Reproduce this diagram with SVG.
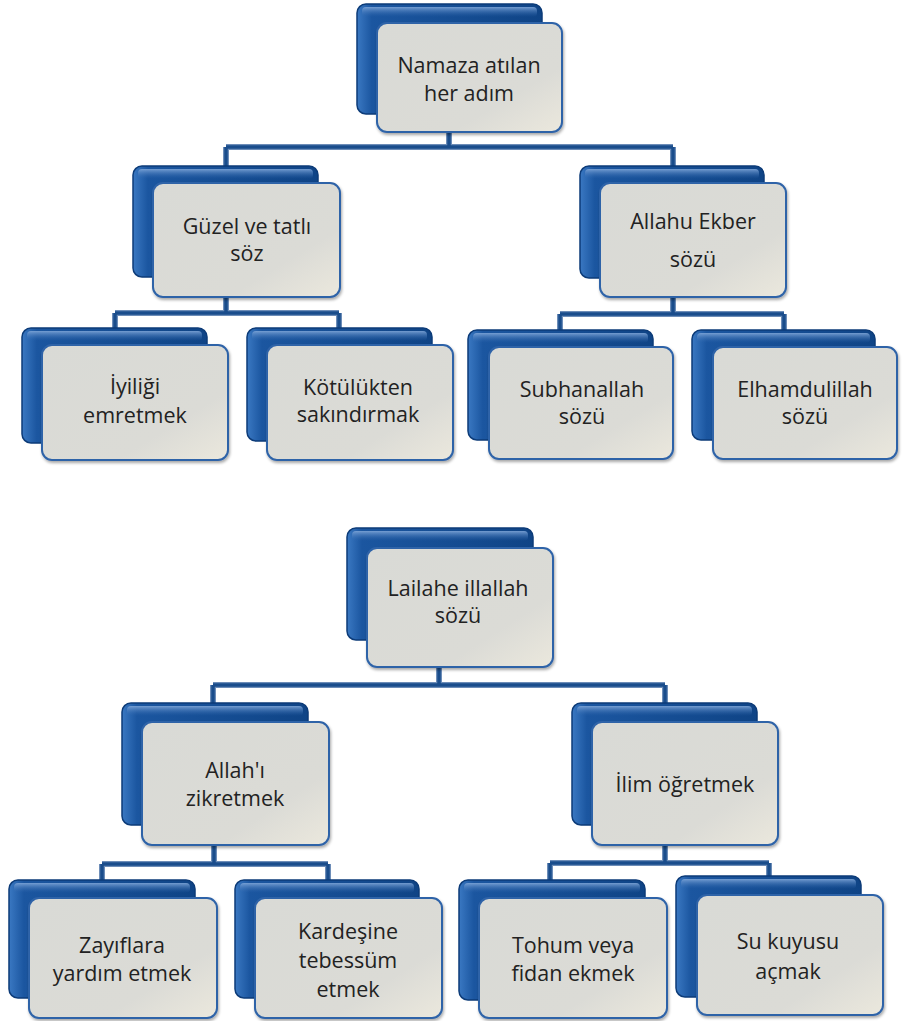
<svg xmlns="http://www.w3.org/2000/svg" width="919" height="1021" viewBox="0 0 919 1021">
<defs>
<linearGradient id="gBlue" x1="0" y1="0" x2="1" y2="0">
<stop offset="0" stop-color="#3a78c2"/>
<stop offset="0.08" stop-color="#1b56a0"/>
<stop offset="1" stop-color="#0f4486"/>
</linearGradient>
<linearGradient id="gFront" x1="0" y1="0" x2="1" y2="1">
<stop offset="0" stop-color="#d9dad6"/>
<stop offset="0.7" stop-color="#dbdbd6"/>
<stop offset="1" stop-color="#ebe8dd"/>
</linearGradient>
<linearGradient id="gHi" x1="0" y1="0" x2="0" y2="1">
<stop offset="0" stop-color="#7fa6d8" stop-opacity="0.9"/>
<stop offset="1" stop-color="#2d65ad" stop-opacity="0"/>
</linearGradient>
<filter id="sh" x="-10%" y="-10%" width="125%" height="125%">
<feGaussianBlur in="SourceAlpha" stdDeviation="1.5"/>
<feOffset dx="1" dy="2"/>
<feComponentTransfer><feFuncA type="linear" slope="0.35"/></feComponentTransfer>
<feMerge><feMergeNode/><feMergeNode in="SourceGraphic"/></feMerge>
</filter>
</defs>
<style>
.back{fill:url(#gBlue);stroke:#0c3b78;stroke-width:1.5}
.hi{fill:url(#gHi)}
.front{fill:url(#gFront);stroke:#2f63a8;stroke-width:2;filter:url(#sh)}
.t{font-family:"Open Sans","Noto Sans","Liberation Sans",sans-serif;font-size:21.5px;fill:#222;text-anchor:middle}
.cu{fill:none;stroke:#6d8db8;stroke-width:6}
.c{fill:none;stroke:#1a4d8c;stroke-width:3.5}
</style>
<rect width="919" height="1021" fill="#ffffff"/>
<g id="connectors">
<path class="cu" d="M449,132V147M226,147H673M226,147V166M673,147V166M226,297V313M115,313H339M115,313V328M339,313V328M673,297V314M560,314H784M560,314V330M784,314V330M439,667V685M213,685H665M213,685V703M665,685V703M214,845V864M102,864H328M102,864V880M328,864V880M665,845V863M550,863H769M550,863V880M769,863V876"/>
<path class="c" d="M449,132V147M226,147H673M226,147V166M673,147V166M226,297V313M115,313H339M115,313V328M339,313V328M673,297V314M560,314H784M560,314V330M784,314V330M439,667V685M213,685H665M213,685V703M665,685V703M214,845V864M102,864H328M102,864V880M328,864V880M665,845V863M550,863H769M550,863V880M769,863V876"/>
</g>
<g id="n1">
<rect class="back" x="357" y="4" width="185" height="110" rx="9"/>
<rect class="hi" x="362" y="7" width="175" height="10" rx="4"/>
<rect class="front" x="377" y="23" width="185" height="109" rx="10"/>
<text class="t" x="469" y="73">Namaza atılan</text>
<text class="t" x="469" y="101">her adım</text>
</g>
<g id="n2">
<rect class="back" x="133" y="166" width="185" height="111" rx="9"/>
<rect class="hi" x="138" y="169" width="175" height="10" rx="4"/>
<rect class="front" x="153" y="183" width="187" height="114" rx="10"/>
<text class="t" x="247" y="234">Güzel ve tatlı</text>
<text class="t" x="247" y="261">söz</text>
</g>
<g id="n3">
<rect class="back" x="580" y="166" width="184" height="112" rx="9"/>
<rect class="hi" x="585" y="169" width="174" height="10" rx="4"/>
<rect class="front" x="600" y="183" width="186" height="114" rx="10"/>
<text class="t" x="693" y="229">Allahu Ekber</text>
<text class="t" x="693" y="267">sözü</text>
</g>
<g id="n4">
<rect class="back" x="22" y="328" width="185" height="115" rx="9"/>
<rect class="hi" x="27" y="331" width="175" height="10" rx="4"/>
<rect class="front" x="42" y="345" width="186" height="115" rx="10"/>
<text class="t" x="135" y="394">İyiliği</text>
<text class="t" x="135" y="423">emretmek</text>
</g>
<g id="n5">
<rect class="back" x="247" y="328" width="185" height="113" rx="9"/>
<rect class="hi" x="252" y="331" width="175" height="10" rx="4"/>
<rect class="front" x="267" y="345" width="186" height="115" rx="10"/>
<text class="t" x="358" y="395">Kötülükten</text>
<text class="t" x="358" y="422">sakındırmak</text>
</g>
<g id="n6">
<rect class="back" x="468" y="330" width="185" height="110" rx="9"/>
<rect class="hi" x="473" y="333" width="175" height="10" rx="4"/>
<rect class="front" x="489" y="347" width="184" height="112" rx="10"/>
<text class="t" x="582" y="397">Subhanallah</text>
<text class="t" x="582" y="424">sözü</text>
</g>
<g id="n7">
<rect class="back" x="692" y="330" width="183" height="110" rx="9"/>
<rect class="hi" x="697" y="333" width="173" height="10" rx="4"/>
<rect class="front" x="713" y="347" width="184" height="112" rx="10"/>
<text class="t" x="805" y="397">Elhamdulillah</text>
<text class="t" x="805" y="424">sözü</text>
</g>
<g id="n8">
<rect class="back" x="347" y="528" width="186" height="112" rx="9"/>
<rect class="hi" x="352" y="531" width="176" height="10" rx="4"/>
<rect class="front" x="367" y="548" width="186" height="119" rx="10"/>
<text class="t" x="458" y="596">Lailahe illallah</text>
<text class="t" x="458" y="623">sözü</text>
</g>
<g id="n9">
<rect class="back" x="122" y="703" width="186" height="122" rx="9"/>
<rect class="hi" x="127" y="706" width="176" height="10" rx="4"/>
<rect class="front" x="142" y="722" width="187" height="123" rx="10"/>
<text class="t" x="235" y="778">Allah'ı</text>
<text class="t" x="235" y="806">zikretmek</text>
</g>
<g id="n10">
<rect class="back" x="572" y="703" width="185" height="122" rx="9"/>
<rect class="hi" x="577" y="706" width="175" height="10" rx="4"/>
<rect class="front" x="592" y="722" width="186" height="123" rx="10"/>
<text class="t" x="685" y="792">İlim öğretmek</text>
</g>
<g id="n11">
<rect class="back" x="9" y="880" width="186" height="118" rx="9"/>
<rect class="hi" x="14" y="883" width="176" height="10" rx="4"/>
<rect class="front" x="29" y="898" width="188" height="120" rx="10"/>
<text class="t" x="122" y="953">Zayıflara</text>
<text class="t" x="122" y="981">yardım etmek</text>
</g>
<g id="n12">
<rect class="back" x="235" y="880" width="184" height="118" rx="9"/>
<rect class="hi" x="240" y="883" width="174" height="10" rx="4"/>
<rect class="front" x="255" y="898" width="187" height="120" rx="10"/>
<text class="t" x="348" y="939">Kardeşine</text>
<text class="t" x="348" y="968">tebessüm</text>
<text class="t" x="348" y="997">etmek</text>
</g>
<g id="n13">
<rect class="back" x="459" y="880" width="186" height="120" rx="9"/>
<rect class="hi" x="464" y="883" width="176" height="10" rx="4"/>
<rect class="front" x="479" y="898" width="188" height="120" rx="10"/>
<text class="t" x="573" y="953">Tohum veya</text>
<text class="t" x="573" y="981">fidan ekmek</text>
</g>
<g id="n14">
<rect class="back" x="676" y="876" width="185" height="121" rx="9"/>
<rect class="hi" x="681" y="879" width="175" height="10" rx="4"/>
<rect class="front" x="697" y="895" width="186" height="120" rx="10"/>
<text class="t" x="788" y="949">Su kuyusu</text>
<text class="t" x="788" y="979">açmak</text>
</g>
</svg>
